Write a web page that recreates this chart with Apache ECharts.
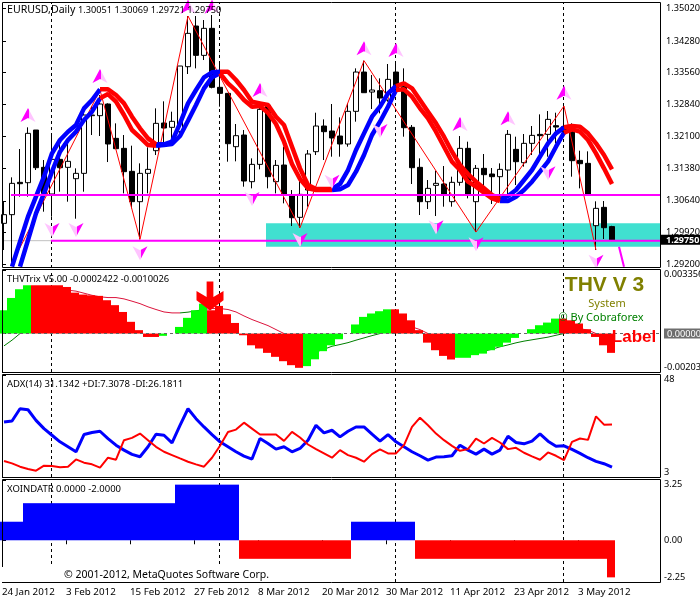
<!DOCTYPE html>
<html><head><meta charset="utf-8">
<style>html,body{margin:0;padding:0;background:#fff}#c{width:700px;height:600px}</style>
<script src="https://cdn.jsdelivr.net/npm/echarts@6/dist/echarts.min.js"></script>
</head><body><div id="c"></div>
<script>
// ---------- data ----------
const dateLabels = ['24 Jan 2012','3 Feb 2012','15 Feb 2012','27 Feb 2012','8 Mar 2012','20 Mar 2012','30 Mar 2012','11 Apr 2012','23 Apr 2012','3 May 2012'];
const priceTicks = [1.29200,1.29920,1.30640,1.31380,1.32100,1.32840,1.33560,1.34280,1.35020];
const monthStarts = [6,27,49,70];

const openP = [1.30125,1.30323,1.31060,1.31052,1.32253,1.31402,1.30794,1.31584,1.31402,1.31143,
1.31265,1.32580,1.32580,1.32846,1.32063,1.31835,1.31311,1.30619,1.31265,1.31782,
1.32413,1.32314,1.32215,1.33697,1.34624,1.33955,1.34571,1.33226,1.33089,1.31873,
1.32139,1.31075,1.31470,1.32815,1.31075,1.31455,1.30771,1.30262,1.30885,1.31759,
1.32344,1.32230,1.32116,1.31934,1.32679,1.33575,1.33119,1.33150,1.32937,1.33575,
1.33241,1.32314,1.31402,1.30619,1.30991,1.31022,1.30619,1.31060,1.31835,1.30619,
1.31379,1.31250,1.31189,1.31341,1.31812,1.31508,1.31949,1.32154,1.32154,1.32352,
1.32329,1.32329,1.31561,1.31493,1.30072,1.30490,1.30051];
const closeP = [1.30323,1.31037,1.31029,1.32177,1.31394,1.30809,1.31584,1.31394,1.31539,1.31265,
1.32595,1.32595,1.32846,1.31934,1.31827,1.31303,1.30619,1.31265,1.31356,1.32405,
1.32299,1.32451,1.33712,1.34457,1.33955,1.34571,1.33226,1.33089,1.31941,1.32124,
1.31090,1.31470,1.32724,1.31189,1.31447,1.30771,1.30254,1.30786,1.31706,1.32344,
1.32215,1.32071,1.31934,1.32679,1.33575,1.33104,1.33165,1.32983,1.33408,1.33150,
1.32306,1.31394,1.30619,1.30923,1.31037,1.30794,1.31060,1.31835,1.30771,1.31379,
1.31235,1.31189,1.31356,1.32154,1.31531,1.31949,1.32131,1.32124,1.32496,1.32321,
1.32215,1.31554,1.31485,1.30771,1.30467,1.30026,1.29750];
const lowP = [1.29517,1.29213,1.30733,1.30733,1.31341,1.30391,1.30277,1.30847,1.30619,1.30231,
1.30847,1.32139,1.32116,1.31523,1.31827,1.30809,1.30467,1.29760,1.30809,1.31683,
1.31911,1.32025,1.32063,1.33530,1.33659,1.33849,1.33203,1.32785,1.31531,1.31539,
1.30961,1.30923,1.31356,1.30923,1.30809,1.30581,1.30064,1.30026,1.30505,1.31683,
1.31569,1.31645,1.31645,1.31873,1.32443,1.33104,1.32732,1.32633,1.32899,1.33089,
1.32101,1.31022,1.30315,1.30452,1.30292,1.30505,1.30505,1.30984,1.30695,1.29927,
1.30771,1.30566,1.30657,1.30733,1.30999,1.31417,1.31683,1.31645,1.31645,1.31949,
1.32177,1.31189,1.30923,1.30771,1.29517,1.29768,1.29721];
const highP = [1.30619,1.31174,1.31820,1.32314,1.32253,1.31569,1.32139,1.31987,1.31987,1.31379,
1.32671,1.32785,1.33051,1.32861,1.32405,1.32139,1.31896,1.31493,1.31858,1.32747,
1.32907,1.32671,1.33712,1.34852,1.34852,1.34761,1.34875,1.33773,1.33089,1.32390,
1.32253,1.31607,1.32899,1.32861,1.31569,1.31873,1.30885,1.31113,1.31797,1.32648,
1.32496,1.32846,1.32542,1.32861,1.33659,1.33834,1.33507,1.33431,1.33758,1.33803,
1.33659,1.32367,1.31607,1.31113,1.31326,1.31432,1.31189,1.32116,1.31987,1.31455,
1.31706,1.31387,1.31493,1.32253,1.32101,1.32162,1.32344,1.32610,1.32686,1.32648,
1.32800,1.32405,1.31782,1.31767,1.30627,1.30634,1.30069];

const bandUpper = [null,1.29137,1.29707,1.30277,1.30733,1.31189,1.31721,1.32025,1.32215,1.32367,
1.32747,1.32937,1.33180,1.33180,1.33051,1.32861,1.32557,1.32291,1.32063,1.31926,
1.31926,1.31987,1.32405,1.32861,1.33165,1.33454,1.33568,1.33583,1.33583,1.33393,
1.33165,1.32899,1.32861,1.32823,1.32557,1.32367,1.31873,1.31379,1.30999,1.30908,
1.30908,1.30908,1.31022,1.31341,1.31797,1.32177,1.32557,1.32785,1.33089,1.33256,
1.33317,1.33203,1.32937,1.32671,1.32405,1.32101,1.31759,1.31455,1.31250,1.31075,
1.30923,1.30771,1.30680,1.30748,1.30885,1.31113,1.31341,1.31645,1.31949,1.32177,
1.32314,1.32344,1.32329,1.32177,1.31949,1.31683,1.31356];
const bandLower = [null,null,1.29137,1.29745,1.30353,1.30809,1.31303,1.31759,1.32025,1.32215,
1.32481,1.32671,1.32975,1.33074,1.32899,1.32595,1.32253,1.32086,1.31911,1.31896,
1.31911,1.31934,1.32116,1.32466,1.32823,1.33203,1.33454,1.33545,1.33317,1.33150,
1.32937,1.32785,1.32800,1.32648,1.32390,1.31987,1.31478,1.31136,1.30923,1.30885,
1.30885,1.30885,1.30900,1.30999,1.31303,1.31683,1.32139,1.32443,1.32785,1.33165,
1.33180,1.33013,1.32747,1.32519,1.32215,1.31873,1.31531,1.31341,1.31075,1.30961,
1.30824,1.30695,1.30634,1.30634,1.30733,1.30885,1.31075,1.31303,1.31531,1.31873,
1.32192,1.32268,1.32215,1.32025,1.31721,1.31379,1.31022];
const blueRuns = [[1,12],[19,27],[41,49],[62,70]];
const redRuns  = [[12,19],[27,41],[49,62],[70,76]];

const zigzagIndex = [1,12,17,23,37,45,59,70,74];
const zigzagPrice = [1.29213,1.33165,1.29760,1.34852,1.30026,1.33834,1.29927,1.32800,1.29517];

const arrowUpIndex = [3,12,32,23,26,45,49,57,63,70];
const arrowUpPrice = [1.32595,1.33484,1.33165,1.35065,1.35065,1.34115,1.34077,1.32390,1.32519,1.33104];
const arrowDownIndex = [6,9,17,31,37,54,59,68,47,74,41];
const arrowDownPrice = [1.29973,1.29973,1.29441,1.30680,1.29745,1.30034,1.29646,1.31265,1.32230,1.29251,1.31075];

const resistance = 1.30771, support = 1.29730, lastPrice = 1.29750;
const zoneTop = 1.30125, zoneBottom = 1.29593;
const forecastPrice = [1.29593,1.29137];

const trixBars = [.00123,.00188,.00234,.00255,.00255,.00255,.00255,.00255,.00246,.00216,
.00206,.00202,.00199,.00176,.00150,.00114,.00062,.00018,-.00018,-.00018,
-.00012,0,.00035,.00083,.00123,.00158,.00123,.00146,.00102,.00056,
-.00009,-.00062,-.00079,-.00102,-.00123,-.00146,-.00167,-.00181,-.00172,-.00136,
-.00093,-.00062,-.00030,0,.00048,.00088,.00106,.00118,.00128,.00128,
.00106,.00070,.00018,-.00048,-.00088,-.00118,-.00137,-.00128,-.00128,-.00114,
-.00106,-.00088,-.00070,-.00048,-.00023,0,.00023,.00044,.00058,.00079,
.00079,.00070,.00053,.00023,-.00018,-.00062,-.00102];
const trixGreenRuns = [[0,3],[20,25],[38,48],[57,69]];
const trixLine = [-.00065,-.00035,0,.00079,.00141,.00185,.00211,.00224,.00229,.00224,
.00213,.00202,.00194,.00190,.00190,.00183,.00171,.00158,.00141,.00127,
.00114,.00109,.00109,.00113,.00120,.00127,.00132,.00132,.00127,.00114,
.00093,.00074,.00058,.00042,.00021,0,-.00035,-.00070,-.00106,-.00097,
-.00083,-.00067,-.00058,-.00048,-.00035,-.00023,-.00011,0,.00026,.00044,
.00048,.00035,.00021,0,-.00035,-.00070,-.00093,-.00106,-.00111,-.00100,
-.00093,-.00083,-.00070,-.00060,-.00049,-.00040,-.00033,-.00026,-.00019,-.00009,
0,.00023,.00026,.00018,0,-.00035,-.00062];
const trixLineGreen = [[0,2],[22,25],[35,47],[53,70]];
const trixLineRed = [[2,22],[25,35],[47,53],[70,76]];
const trixScale = [-0.00203,0,0.003356];
const bigArrow = [26,0.00198];

const adxPlus = [27.27,27.71,33.11,32.68,28.00,24.35,21.43,18.51,16.32,14.13,
21.72,22.60,23.18,19.97,17.05,14.86,12.96,11.94,16.32,21.87,
21.43,18.07,25.81,33.11,28.73,25.08,21.72,18.51,16.32,14.13,
12.23,10.91,19.97,17.78,15.30,16.32,14.13,15.59,19.24,25.81,
22.45,23.62,20.70,23.18,25.08,25.08,21.87,18.80,21.72,18.51,
16.32,14.13,12.37,10.47,11.79,11.94,12.37,17.05,14.86,13.10,
15.30,13.10,14.86,20.99,18.22,17.63,18.80,22.01,18.80,16.61,
16.76,15.15,13.40,11.50,9.89,8.87,7.31];
const adxMinus = [10.04,9.01,7.55,6.53,5.80,7.99,7.85,7.26,7.55,10.77,
9.31,8.58,7.12,11.50,10.62,19.24,20.26,22.16,19.24,16.32,
14.13,12.67,11.20,9.74,8.58,7.55,11.50,16.76,22.89,23.91,
26.98,24.35,21.72,21.72,21.72,18.95,22.89,20.41,17.34,15.30,
13.40,11.50,14.86,12.67,11.50,9.74,13.10,15.15,13.40,13.40,
17.05,25.08,29.17,25.81,22.16,19.24,16.76,14.56,15.30,19.97,
17.78,20.26,18.22,15.30,15.88,13.69,12.08,10.62,13.84,12.37,
10.47,18.51,19.97,19.38,29.75,26.10,26.18];
const adxScale = [3,48];

const xoinValues = [1,1,1,2,2,2,2,2,2,2,2,2,2,2,2,2,2,2,2,2,2,2,
3,3,3,3,3,3,3,3,
-1,-1,-1,-1,-1,-1,-1,-1,-1,-1,-1,-1,-1,-1,
1,1,1,1,1,1,1,1,
-1,-1,-1,-1,-1,-1,-1,-1,-1,-1,-1,-1,-1,-1,-1,-1,-1,-1,-1,-1,-1,-1,-1,-1,
-2];
const xoinScale = [-2.25,0,3.25];

// ---------- layout helpers ----------
const CANDLE_X = 0.25, BAR_X = 0.125, DASH_X = 0.1875, X_MAX = 82.25;
const BLUE='#0000ff', RED='#ff0000', LIME='#00ff00', MAGENTA='#ff00ff';
const FONT = '"Noto Sans", sans-serif';
const inRuns = (i,runs)=>runs.some(r=>i>=r[0]&&i<=r[1]);
const runData = (arr,runs)=>arr.map((v,i)=>[i+CANDLE_X, inRuns(i,runs)?v:null]);
const grids = [{top:3,height:265},{top:270,height:102},{top:375,height:102},{top:480,height:102}]
  .map(g=>({left:2,width:658,top:g.top,height:g.height,outerBoundsMode:'none',containLabel:false}));

const xAxes = grids.map((g,i)=>({
  type:'value',gridIndex:i,min:0,max:X_MAX,splitLine:{show:false},
  axisLine:{show:false},
  axisTick:i===3?{show:true,length:4,lineStyle:{color:'#000'},customValues:dateLabels.map((d,k)=>k*8)}:{show:false},
  axisLabel:i===3?{show:true,align:'left',margin:5,color:'#000',fontSize:9.8,fontFamily:FONT,
     customValues:dateLabels.map((d,k)=>k*8),formatter:v=>dateLabels[v/8]||''}:{show:false}
}));
function rightAxis(gi,min,max,values,fmt,extra){
  return Object.assign({type:'value',gridIndex:gi,position:'right',min,max,scale:true,splitLine:{show:false},
    axisLine:{show:false},
    axisTick:{show:true,length:4,inside:false,lineStyle:{color:'#000'},customValues:values},
    axisLabel:Object.assign({show:true,color:'#000',fontSize:9.2,fontFamily:FONT,margin:6,customValues:values,formatter:fmt,
      verticalAlignMinLabel:'bottom',verticalAlignMaxLabel:'top',showMinLabel:true,showMaxLabel:true},extra||{})},{});
}
const tagRich = {tag:{backgroundColor:'#000',color:'#fff',padding:[1,6,0,5],fontSize:9,fontFamily:FONT,fontWeight:'bold'}};
const zeroRich = {zero:{backgroundColor:'#6e6e6e',color:'#fff',padding:[1,6,0,3],fontSize:9.2,fontFamily:FONT}};

const yAxes = [
  rightAxis(0,1.29107,1.35149,priceTicks,v=>v.toFixed(5),{verticalAlignMinLabel:'middle',verticalAlignMaxLabel:'middle'}),
  Object.assign(rightAxis(0,1.29107,1.35149,[lastPrice],v=>'{tag|'+v.toFixed(5)+'}',{margin:1,rich:tagRich,verticalAlignMinLabel:'middle',verticalAlignMaxLabel:'middle'}),{axisTick:{show:false}}),
  rightAxis(1,trixScale[0],trixScale[2],trixScale,v=>v===0?'{zero|0.00000}':(v>0?'0.003356':'-0.00203'),{margin:4,rich:zeroRich}),
  rightAxis(2,adxScale[0],adxScale[1],adxScale,v=>String(v),{margin:4}),
  rightAxis(3,xoinScale[0],xoinScale[2],xoinScale,v=>v.toFixed(2),{margin:4})
];

function dashes(gi,yi){
  return {type:'line',xAxisIndex:gi,yAxisIndex:yi,data:[],z:1,silent:true,
    markLine:{silent:true,symbol:'none',label:{show:false},animation:false,z:1,
      lineStyle:{color:'#000',type:[3,3],width:1},
      data:monthStarts.map(i=>({xAxis:i+DASH_X}))}};
}
function lineS(gi,yi,data,color,width,z){
  return {type:'line',xAxisIndex:gi,yAxisIndex:yi,data,symbol:'none',showSymbol:false,z,
    lineStyle:{color,width},itemStyle:{color},connectNulls:false,animation:false};
}
function halfFill(solidLeft){
  const a=solidLeft?MAGENTA:'#ffc4ff', b=solidLeft?'#ffc4ff':MAGENTA;
  return new echarts.graphic.LinearGradient(0,0,1,0,[{offset:0,color:a},{offset:.55,color:a},{offset:.55,color:b},{offset:1,color:b}]);
}
const series = [
  // main panel
  {type:'line',xAxisIndex:0,yAxisIndex:0,data:[],z:1,silent:true,
    markArea:{silent:true,itemStyle:{color:'#40e0d0',opacity:1},data:[[{xAxis:33,yAxis:zoneTop},{xAxis:X_MAX,yAxis:zoneBottom}]]}},
  dashes(0,0),
  lineS(0,0,[[0,support],[6.125,support]],'#c0c0c0',1,2),
  {type:'candlestick',xAxisIndex:0,yAxisIndex:0,z:3,barWidth:5,animation:false,
    encode:{x:0,y:[1,2,3,4]},
    itemStyle:{color:'#fff',color0:'#000',borderColor:'#000',borderColor0:'#000',borderWidth:1},
    data:openP.map((o,i)=>[i+CANDLE_X,o,closeP[i],lowP[i],highP[i]])},
  lineS(0,0,zigzagIndex.map((k,i)=>[k+CANDLE_X,zigzagPrice[i]]),RED,1,4),
  lineS(0,0,runData(bandUpper,blueRuns),BLUE,4.5,5),
  lineS(0,0,runData(bandLower,blueRuns),BLUE,4.5,5),
  lineS(0,0,runData(bandUpper,redRuns),RED,4.5,6),
  lineS(0,0,runData(bandLower,redRuns),RED,4.5,6),
  lineS(0,0,[[1.125,resistance],[X_MAX,resistance]],MAGENTA,2,7),
  lineS(0,0,[[6.125,support],[X_MAX,support]],MAGENTA,2,7),
  lineS(0,0,[[77.125,forecastPrice[0]],[77.75,forecastPrice[1]]],MAGENTA,2,7),
  {type:'scatter',xAxisIndex:0,yAxisIndex:0,z:8,clip:false,symbol:'path://M7,0 L14,14 L7,10 L0,14 Z',symbolSize:[15,14],
    itemStyle:{color:halfFill(true),opacity:1},data:arrowUpIndex.map((k,i)=>[k+CANDLE_X,arrowUpPrice[i]]),animation:false},
  {type:'scatter',xAxisIndex:0,yAxisIndex:0,z:8,clip:false,symbol:'path://M7,14 L14,0 L7,4 L0,0 Z',symbolSize:[15,14],
    itemStyle:{color:halfFill(false),opacity:1},data:arrowDownIndex.map((k,i)=>[k+CANDLE_X,arrowDownPrice[i]]),animation:false},
  // THVTrix panel
  dashes(1,2),
  lineS(1,2,runData(trixLine,trixLineGreen),'#008000',1,2),
  lineS(1,2,runData(trixLine,trixLineRed),'#dc143c',1,2),
  {type:'bar',xAxisIndex:1,yAxisIndex:2,barWidth:8,z:3,animation:false,
    data:trixBars.map((v,i)=>({value:[i+BAR_X,v],itemStyle:{color:inRuns(i,trixGreenRuns)?LIME:RED}}))},
  {type:'line',xAxisIndex:1,yAxisIndex:2,data:[],z:4,silent:true,
    markLine:{silent:true,symbol:'none',label:{show:false},animation:false,z:4,
      lineStyle:{color:'#666',type:[3,3],width:1},data:[{yAxis:0}]}},
  {type:'scatter',xAxisIndex:1,yAxisIndex:2,z:5,symbol:'path://M30,0 L50,0 L50,45 L80,28 L80,55 L40,85 L0,55 L0,28 L30,45 Z',symbolSize:[27,29],
    itemStyle:{color:RED,opacity:1},data:[bigArrow],animation:false},
  // ADX panel
  dashes(2,3),
  lineS(2,3,adxPlus.map((v,i)=>[i+CANDLE_X,v]),BLUE,3,3),
  lineS(2,3,adxMinus.map((v,i)=>[i+CANDLE_X,v]),RED,2,4),
  // XOINDATR panel
  dashes(3,4),
  {type:'bar',xAxisIndex:3,yAxisIndex:4,barWidth:8,z:3,animation:false,
    data:xoinValues.map((v,i)=>({value:[i+BAR_X,v],itemStyle:{color:v>0?BLUE:RED}}))}
];

const frame = (y,h)=>({type:'rect',z:50,silent:true,shape:{x:2.5,y,width:658,height:h},style:{fill:null,stroke:'#000',lineWidth:1}});
const text = (x,y,t,fill,size,weight,align)=>({type:'text',z:60,silent:true,x,y,
  style:{text:t,fill,font:(weight||'normal')+' '+size+'px '+(weight==='bold'?'"Liberation Sans", Arial, sans-serif':FONT),textAlign:align||'left',textVerticalAlign:'middle'}});
const graphic = [
  frame(2.5,265),frame(269.5,103),frame(374.5,103),frame(479.5,103),
  {type:'rect',z:55,silent:true,shape:{x:0,y:567,width:277,height:15},style:{fill:'#fff'}},
  text(7,10,'EURUSD,Daily','#000',10.6),
  text(78,10,'1.30051 1.30069 1.29721 1.29750','#000',9.2),
  text(7,279,'THVTrix V5.00 -0.0002422 -0.0010026','#000',9.4),
  text(7,384,'ADX(14) 31.1342 +DI:7.3078 -DI:26.1811','#000',9.5),
  text(7,489,'XOINDATR 0.0000 -2.0000','#000',9.5),
  text(64,575,'© 2001-2012, MetaQuotes Software Corp.','#000',10.5),
  text(604.5,285,'THV V 3','#808000',21,'bold','center'),
  text(607,304,'System','#808000',11,'normal','center'),
  text(601,318,'© By Cobraforex','#008000',11,'normal','center'),
  text(634,337,'Label','#ff0000',17,'bold','center')
];
const chart = echarts.init(document.getElementById('c'),null,{renderer:'canvas'});
chart.setOption({animation:false,backgroundColor:'#fff',grid:grids,xAxis:xAxes,yAxis:yAxes,series,graphic,tooltip:{show:false}});
</script></body></html>
